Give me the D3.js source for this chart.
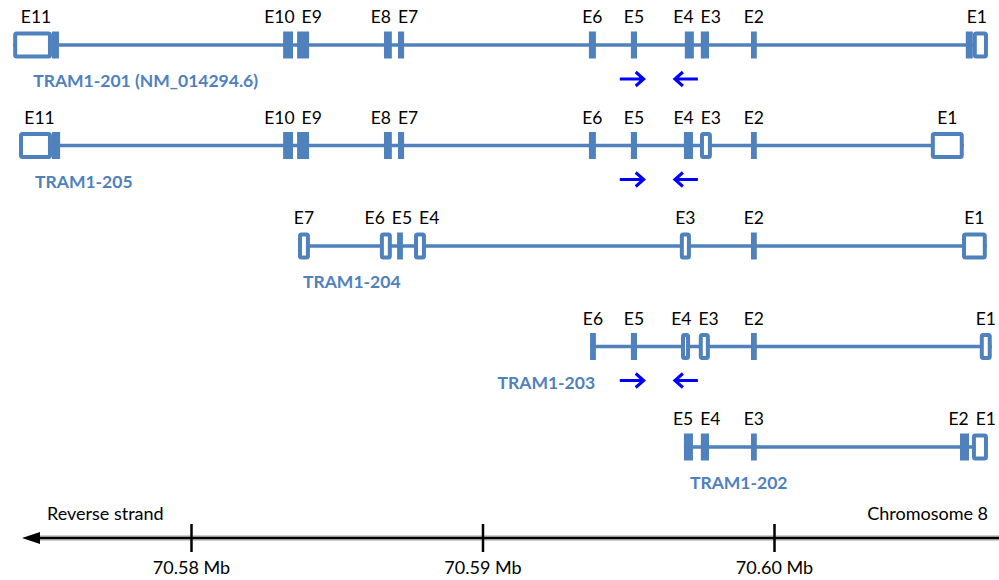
<!DOCTYPE html>
<html>
<head>
<meta charset="utf-8">
<script src="https://cdn.jsdelivr.net/npm/d3@7/dist/d3.min.js"></script>
<style>
  body { margin: 0; background: #fff; }
  svg text { font-family: Lato, "Open Sans", sans-serif; }
  .exlab { font-size: 17.5px; fill: #000; }
  .txlab { font-size: 17.5px; font-weight: bold; fill: #4f81bd; }
  .axis text, .axlab { font-size: 18px; fill: #000; }
</style>
</head>
<body>
<script>
// Transcript names, top to bottom
var transcripts = ["TRAM1-201 (NM_014294.6)", "TRAM1-205", "TRAM1-204", "TRAM1-203", "TRAM1-202"];

// exon segments: [exon, start Mb, end Mb, coding or utr]
var exons201 = [
  ["E11", 70.57390, 70.57523, "utr"], ["E11", 70.57523, 70.57547, "cds"],
  ["E10", 70.58316, 70.58350, "cds"], ["E9", 70.58364, 70.58405, "cds"],
  ["E8", 70.58662, 70.58689, "cds"], ["E7", 70.58710, 70.58731, "cds"],
  ["E6", 70.59365, 70.59389, "cds"], ["E5", 70.59509, 70.59530, "cds"],
  ["E4", 70.59694, 70.59725, "cds"], ["E3", 70.59749, 70.59777, "cds"],
  ["E2", 70.59921, 70.59941, "cds"],
  ["E1", 70.60658, 70.60682, "cds"], ["E1", 70.60682, 70.60734, "utr"]
];
var exons205 = [
  ["E11", 70.57410, 70.57523, "utr"], ["E11", 70.57523, 70.57551, "cds"],
  ["E10", 70.58316, 70.58350, "cds"], ["E9", 70.58364, 70.58405, "cds"],
  ["E8", 70.58662, 70.58689, "cds"], ["E7", 70.58710, 70.58731, "cds"],
  ["E6", 70.59365, 70.59389, "cds"], ["E5", 70.59509, 70.59530, "cds"],
  ["E4", 70.59691, 70.59722, "cds"], ["E3", 70.59746, 70.59787, "utr"],
  ["E2", 70.59921, 70.59941, "cds"], ["E1", 70.60538, 70.60651, "utr"]
];
var exons204 = [
  ["E7", 70.58367, 70.58408, "utr"], ["E6", 70.58648, 70.58689, "utr"],
  ["E5", 70.58707, 70.58727, "cds"], ["E4", 70.58765, 70.58806, "utr"],
  ["E3", 70.59677, 70.59715, "utr"], ["E2", 70.59921, 70.59941, "cds"],
  ["E1", 70.60645, 70.60730, "utr"]
];
var exons203 = [
  ["E6", 70.59369, 70.59389, "cds"], ["E5", 70.59509, 70.59530, "cds"],
  ["E4", 70.59681, 70.59712, "utr"], ["E3", 70.59742, 70.59780, "utr"],
  ["E2", 70.59921, 70.59941, "cds"], ["E1", 70.60706, 70.60747, "utr"]
];
var exons202 = [
  ["E5", 70.59691, 70.59722, "cds"], ["E4", 70.59749, 70.59777, "cds"],
  ["E3", 70.59921, 70.59941, "cds"], ["E2", 70.60638, 70.60669, "cds"],
  ["E1", 70.60679, 70.60734, "utr"]
];
var exonSets = [exons201, exons205, exons204, exons203, exons202];

// primer pair (forward, reverse) and the transcripts it is shown on
var primers = [["F", 70.59471, 70.59553], ["R", 70.59660, 70.59739]];
var primerRows = ["TRAM1-201 (NM_014294.6)", "TRAM1-205", "TRAM1-203"];

// genome axis
var axisTicks = [70.58, 70.59, 70.60];
var strandLabel = "Reverse strand";
var chromLabel = "Chromosome 8";

var width = 999;
var height = 580;
var blue = "#4f81bd";
var exonH = 27;

var svg = d3.select("body").append("svg")
  .attr("width", width)
  .attr("height", height);

var x = d3.scaleLinear().domain([70.58, 70.60]).range([191, 774]);
var y = d3.scalePoint().domain(transcripts).range([45, 447]);

// where each transcript name sits (layout only)
var labelPos = [
  { dx: 20, anchor: "start" },
  { dx: 16, anchor: "start" },
  { dx: 5, anchor: "start" },
  { dx: 5, anchor: "end" },
  { dx: 6, anchor: "start" }
];

transcripts.forEach(function(name, i) {
  var segs = exonSets[i];
  var cy = y(name);
  var g = svg.append("g");
  var lo = d3.min(segs, function(d) { return d[1]; });
  var hi = d3.max(segs, function(d) { return d[2]; });

  // intron line
  g.append("line")
    .attr("x1", x(lo)).attr("x2", x(hi))
    .attr("y1", cy).attr("y2", cy)
    .attr("stroke", blue).attr("stroke-width", 3.5);

  // untranslated parts: open boxes
  g.selectAll("rect.utr")
    .data(segs.filter(function(d) { return d[3] == "utr"; }))
    .enter().append("rect")
    .attr("class", "utr")
    .attr("x", function(d) { return x(d[1]) + 2; })
    .attr("width", function(d) { return x(d[2]) - x(d[1]) - 4; })
    .attr("y", cy - exonH / 2 + 2)
    .attr("height", exonH - 4)
    .attr("rx", 1.5)
    .attr("fill", "#fff")
    .attr("stroke", blue).attr("stroke-width", 4);

  // coding parts: filled boxes
  g.selectAll("rect.cds")
    .data(segs.filter(function(d) { return d[3] == "cds"; }))
    .enter().append("rect")
    .attr("class", "cds")
    .attr("x", function(d) { return x(d[1]); })
    .attr("width", function(d) { return x(d[2]) - x(d[1]); })
    .attr("y", cy - exonH / 2)
    .attr("height", exonH)
    .attr("fill", blue);

  // exon names, one per exon, pushed apart when they crowd
  var names = [];
  segs.forEach(function(d) {
    var last = names[names.length - 1];
    if (last && last.name == d[0]) {
      last.hi = d[2];
    } else {
      names.push({ name: d[0], lo: d[1], hi: d[2] });
    }
  });
  var labs = g.selectAll("text.exlab")
    .data(names)
    .enter().append("text")
    .attr("class", "exlab")
    .attr("text-anchor", "middle")
    .attr("y", cy - 22)
    .text(function(d) { return d.name; });
  labs.each(function(d) {
    d.cx = (x(d.lo) + x(d.hi)) / 2;
    d.w = this.getComputedTextLength();
  });
  for (var it = 0; it < 60; it++) {
    for (var k = 1; k < names.length; k++) {
      var a = names[k - 1], b = names[k];
      var need = (a.w + b.w) / 2 + 7;
      var gap = b.cx - a.cx;
      if (gap < need) {
        a.cx -= (need - gap) / 2;
        b.cx += (need - gap) / 2;
      }
    }
  }
  labs.attr("x", function(d) { return d.cx; });

  // transcript name
  g.append("text")
    .attr("class", "txlab")
    .attr("x", x(lo) + labelPos[i].dx)
    .attr("y", cy + 42)
    .attr("text-anchor", labelPos[i].anchor)
    .text(name);

  // primer arrows
  if (primerRows.indexOf(name) >= 0) {
    var py = cy + 34;
    g.selectAll("path.primer")
      .data(primers)
      .enter().append("path")
      .attr("class", "primer")
      .attr("fill", "none")
      .attr("stroke", "#0000ff")
      .attr("stroke-width", 3)
      .attr("d", function(d) {
        var x0 = x(d[1]), x1 = x(d[2]);
        if (d[0] == "F") {
          return "M" + x0 + "," + py + "H" + (x1 - 1) +
                 "M" + (x1 - 8) + "," + (py - 7) + "L" + x1 + "," + py + "L" + (x1 - 8) + "," + (py + 7);
        }
        return "M" + x1 + "," + py + "H" + (x0 + 1) +
               "M" + (x0 + 8) + "," + (py - 7) + "L" + x0 + "," + py + "L" + (x0 + 8) + "," + (py + 7);
      });
  }
});

// chromosome axis
var axisY = 538;
svg.append("line")
  .attr("x1", 30).attr("x2", width)
  .attr("y1", axisY).attr("y2", axisY)
  .attr("stroke", "#9a9a9a").attr("stroke-width", 5);
svg.append("line")
  .attr("x1", 30).attr("x2", width)
  .attr("y1", axisY).attr("y2", axisY)
  .attr("stroke", "#000").attr("stroke-width", 2);
svg.append("path")
  .attr("d", "M22," + axisY + "L40," + (axisY - 6) + "L40," + (axisY + 6) + "Z")
  .attr("fill", "#000");

var xAxis = d3.axisBottom(x)
  .tickValues(axisTicks)
  .tickSize(28)
  .tickPadding(9)
  .tickFormat(function(d) { return d3.format(".2f")(d) + " Mb"; });

var ax = svg.append("g")
  .attr("class", "axis")
  .attr("transform", "translate(0," + (axisY - 14) + ")")
  .call(xAxis);
ax.select(".domain").remove();
ax.selectAll(".tick line").attr("stroke", "#000").attr("stroke-width", 2.5);

svg.append("text")
  .attr("class", "axlab")
  .attr("x", 47).attr("y", 520)
  .text(strandLabel);

svg.append("text")
  .attr("class", "axlab")
  .attr("x", 988).attr("y", 520)
  .attr("text-anchor", "end")
  .text(chromLabel);
</script>
</body>
</html>
